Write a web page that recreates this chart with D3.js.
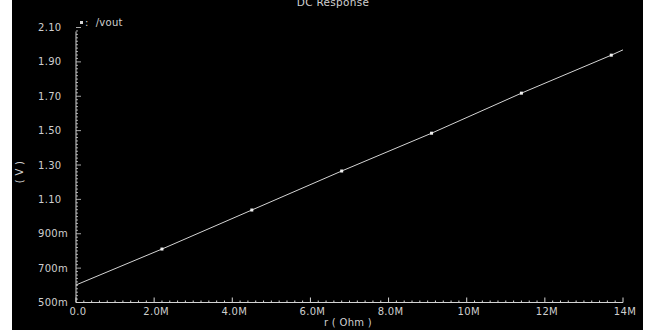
<!DOCTYPE html>
<html>
<head>
<meta charset="utf-8">
<script src="https://d3js.org/d3.v7.min.js"></script>
<style>
  body { margin: 0; background: #fff; }
  svg { display: block; }
  text { font-family: "DejaVu Sans", sans-serif; fill: #cfcfcf; letter-spacing: 0.3px; }
</style>
</head>
<body>
<svg id="chart" width="646" height="336"></svg>
<script>
// vout sweep samples (r in Ohm, vout in V)
const rOhm = [0, 2.2e6, 4.5e6, 6.8e6, 9.1e6, 11.4e6, 13.7e6, 14e6];
const vout = [0.602, 0.811, 1.038, 1.265, 1.485, 1.718, 1.939, 1.970];
// points where the waveform marker is drawn
const markerIdx = [1, 2, 3, 4, 5, 6];

const xTicks = [0, 2e6, 4e6, 6e6, 8e6, 10e6, 12e6, 14e6];
const xTickLabels = ["0.0", "2.0M", "4.0M", "6.0M", "8.0M", "10M", "12M", "14M"];
const yTicks = [0.5, 0.7, 0.9, 1.1, 1.3, 1.5, 1.7, 1.9, 2.1];
const yTickLabels = ["500m", "700m", "900m", "1.10", "1.30", "1.50", "1.70", "1.90", "2.10"];

const fg = "#d4d4d4";
const svg = d3.select("#chart");

// black plot window, white strip left, right and bottom
svg.append("rect").attr("x", 12).attr("y", 0).attr("width", 631).attr("height", 330).attr("fill", "#000");

const x = d3.scaleLinear().domain([0, 14e6]).range([76, 623]);
const y = d3.scaleLinear().domain([0.5, 2.1]).range([302.5, 27.5]);

// title (cut at the top edge like the original screenshot)
svg.append("text").attr("x", 333).attr("y", 6).attr("text-anchor", "middle")
  .attr("font-size", 10.5).text("DC Response");

// axis lines
svg.append("line").attr("x1", x(0)).attr("x2", x(14e6)).attr("y1", y(0.5)).attr("y2", y(0.5))
  .attr("stroke", fg).attr("stroke-width", 1);
svg.append("line").attr("x1", x(0)).attr("x2", x(0)).attr("y1", y(0.5)).attr("y2", y(2.1) + 4)
  .attr("stroke", fg).attr("stroke-width", 1);

// minor + major ticks on x
svg.append("g").selectAll("line").data(d3.range(0, 71)).join("line")
  .attr("x1", i => x(i * 2e5)).attr("x2", i => x(i * 2e5))
  .attr("y1", y(0.5)).attr("y2", i => y(0.5) - (i % 10 === 0 ? 5 : 2))
  .attr("stroke", fg).attr("stroke-width", 1);

// minor + major ticks on y
svg.append("g").selectAll("line").data(d3.range(0, 81)).join("line")
  .attr("x1", x(0)).attr("x2", i => x(0) + (i % 10 === 0 ? 5 : 2))
  .attr("y1", i => y(0.5 + i * 0.02)).attr("y2", i => y(0.5 + i * 0.02))
  .attr("stroke", fg).attr("stroke-width", 0.8);

// tick labels
svg.append("g").selectAll("text").data(xTicks).join("text")
  .attr("x", d => x(d) + 2).attr("y", 315).attr("text-anchor", "middle")
  .attr("font-size", 10).text((d, i) => xTickLabels[i]);

svg.append("g").selectAll("text").data(yTicks).join("text")
  .attr("x", 38).attr("y", d => y(d) + 3.5).attr("text-anchor", "start")
  .attr("font-size", 10).text((d, i) => yTickLabels[i]);

// axis titles
svg.append("text").attr("x", 348).attr("y", 326).attr("text-anchor", "middle")
  .attr("font-size", 10).attr("xml:space", "preserve").text("r ( Ohm )");
svg.append("text").attr("transform", "translate(23,172) rotate(-90)").attr("text-anchor", "middle")
  .attr("font-size", 10).attr("xml:space", "preserve").text("( V )");

// legend
svg.append("rect").attr("x", 80).attr("y", 21).attr("width", 3).attr("height", 3).attr("fill", fg);
svg.append("text").attr("x", 85).attr("y", 26).attr("font-size", 10)
  .attr("xml:space", "preserve").text(":  /vout");

// waveform
const line = d3.line().x((d, i) => x(rOhm[i])).y(d => y(d));
svg.append("path").datum(vout).attr("d", line)
  .attr("fill", "none").attr("stroke", fg).attr("stroke-width", 1);

svg.append("g").selectAll("rect").data(markerIdx).join("rect")
  .attr("x", i => x(rOhm[i]) - 1.5).attr("y", i => y(vout[i]) - 1.5)
  .attr("width", 3).attr("height", 3).attr("fill", "#eee");
</script>
</body>
</html>
